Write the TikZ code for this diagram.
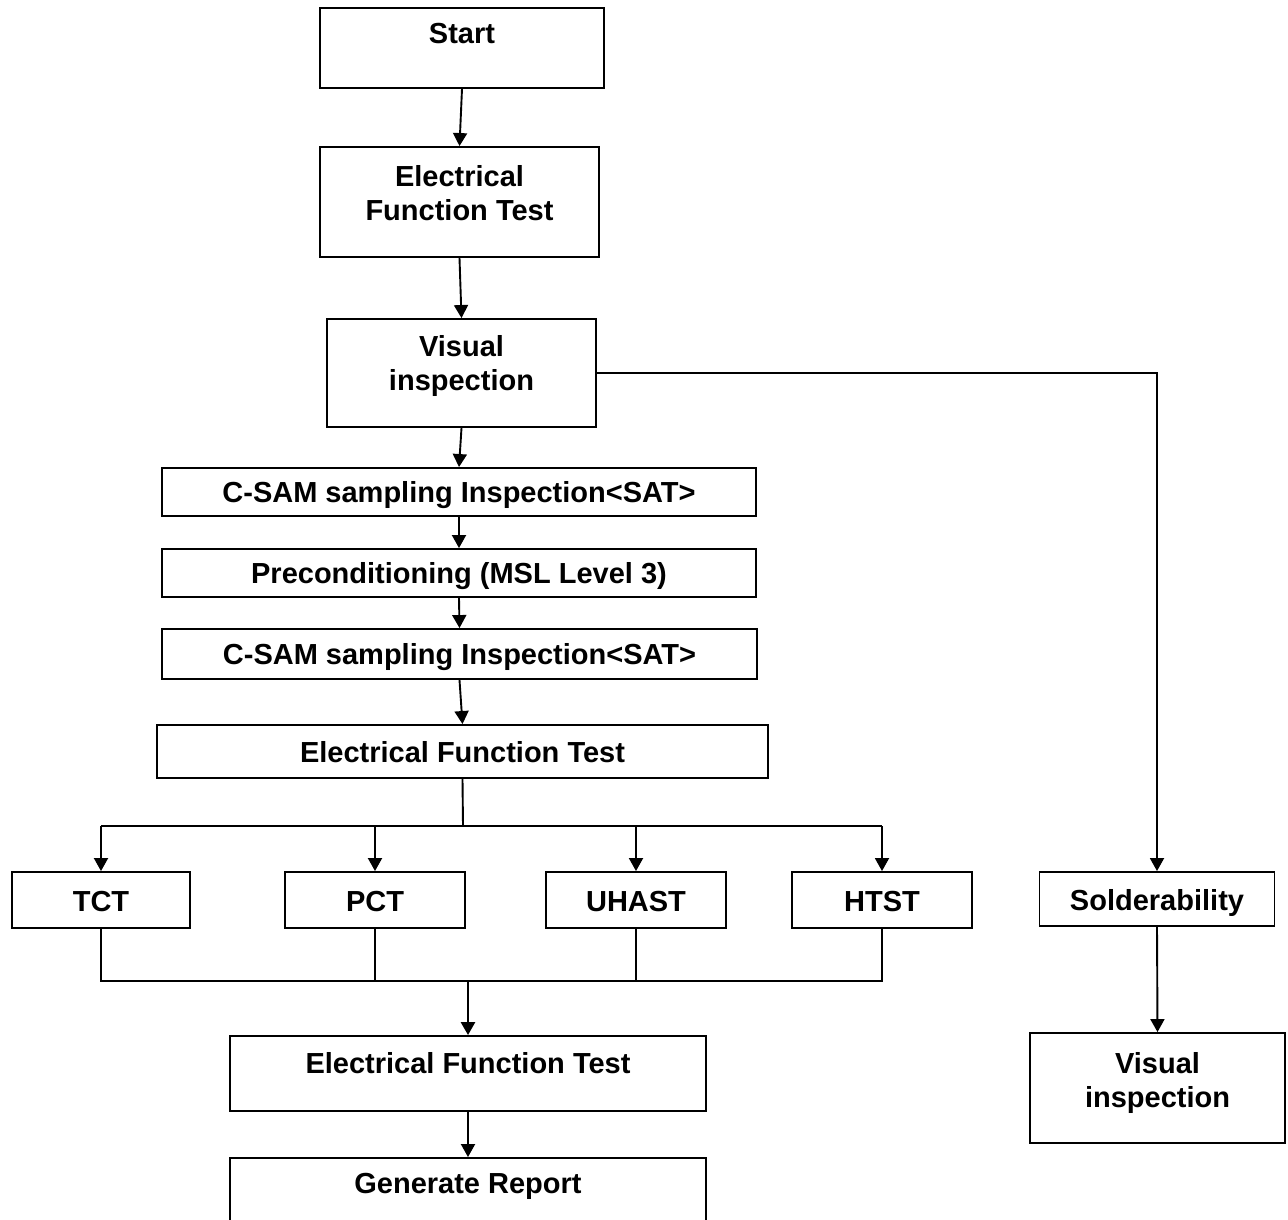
\documentclass[tikz,border=0pt]{standalone}
\usepackage{fontspec}
\setmainfont{Liberation Sans}
\usetikzlibrary{arrows.meta}
\begin{document}
\begin{tikzpicture}[x=1pt,y=-1pt,
  box/.style={draw=black, line width=1.9pt, fill=white, inner sep=0pt},
  txt/.style={anchor=base, align=center, inner sep=0pt,
    font=\bfseries\fontsize{29}{34}\selectfont},
  conn/.style={draw=black, line width=1.9pt},
  arr/.style={conn, -{Triangle[width=14pt,length=13pt]}}]
\useasboundingbox[fill=white] (0,0) rectangle (1288,1220);

% boxes: centre, width, height
\node[box, minimum width=284pt, minimum height=80pt]  (start) at (462,48) {};
\node[box, minimum width=279pt, minimum height=110pt] (eft1)  at (459.5,202) {};
\node[box, minimum width=269pt, minimum height=108pt] (vis1)  at (461.5,373) {};
\node[box, minimum width=594pt, minimum height=48pt]  (csam1) at (459,492) {};
\node[box, minimum width=594pt, minimum height=48pt]  (pre)   at (459,573) {};
\node[box, minimum width=595pt, minimum height=50pt]  (csam2) at (459.5,654) {};
\node[box, minimum width=611pt, minimum height=53pt]  (eft2)  at (462.5,751.5) {};
\node[box, minimum width=178pt, minimum height=56pt]  (tct)   at (101,900) {};
\node[box, minimum width=180pt, minimum height=56pt]  (pct)   at (375,900) {};
\node[box, minimum width=180pt, minimum height=56pt]  (uhast) at (636,900) {};
\node[box, minimum width=180pt, minimum height=56pt]  (htst)  at (882,900) {};
\node[box, minimum width=235pt, minimum height=54pt]  (sold)  at (1157,899) {};
\node[box, minimum width=476pt, minimum height=75pt]  (eft3)  at (468,1073.5) {};
\node[box, minimum width=476pt, minimum height=100pt] (gr)    at (468,1208) {};
\node[box, minimum width=255pt, minimum height=110pt] (vis2)  at (1157.5,1088) {};

% texts (base anchor = baseline of the last line)
\node[txt] (startT) at (462,44) {Start};
\node[txt] (eft1T)  at (459.5,220) {Electrical\\Function Test};
\node[txt] (vis1T)  at (461.5,390) {Visual\\inspection};
\node[txt] (csam1T) at (459,502.5) {C-SAM sampling Inspection<SAT>};
\node[txt] (preT)   at (459,583.5) {Preconditioning (MSL Level 3)};
\node[txt] (csam2T) at (459.5,664.5) {C-SAM sampling Inspection<SAT>};
\node[txt] (eft2T)  at (462.5,762) {Electrical Function Test};
\node[txt] (tctT)   at (101,911) {TCT};
\node[txt] (pctT)   at (375,911) {PCT};
\node[txt] (uhastT) at (636,911) {UHAST};
\node[txt] (htstT)  at (882,911) {HTST};
\node[txt] (soldT)  at (1157,910) {Solderability};
\node[txt] (eft3T)  at (468,1073) {Electrical Function Test};
\node[txt] (grT)    at (468,1193) {Generate Report};
\node[txt] (vis2T)  at (1157.5,1107) {Visual\\inspection};

% main column
\draw[arr] (start.south) -- (eft1.north);
\draw[arr] (eft1.south) -- (vis1.north);
\draw[arr] (vis1.south) -- (csam1.north);
\draw[arr] (csam1.south) -- (pre.north);
\draw[arr] (pre.south) -- (csam2.north);
\draw[arr] (csam2.south) -- (eft2.north);

% branch to solderability
\draw[arr] (vis1.east) -- (sold.north |- vis1.east) -- (sold.north);
\draw[arr] (sold.south) -- (vis2.north);

% fan-out bus
\coordinate (busT) at (463,826);
\coordinate (busTL) at (101,826);
\coordinate (busTR) at (882,826);
\draw[conn] (eft2.south) -- (busT);
\draw[conn] (busTL) -- (busTR);
\draw[arr] (busTL) -- (tct.north);
\draw[arr] (pct.north |- busT) -- (pct.north);
\draw[arr] (uhast.north |- busT) -- (uhast.north);
\draw[arr] (busTR) -- (htst.north);

% fan-in bus
\coordinate (busB) at (468,981);
\draw[conn] (tct.south) -- (tct.south |- busB) -- (htst.south |- busB) -- (htst.south);
\draw[conn] (pct.south) -- (pct.south |- busB);
\draw[conn] (uhast.south) -- (uhast.south |- busB);
\draw[arr, line width=2.6pt] (busB) -- (eft3.north);
\draw[arr] (eft3.south) -- (gr.north);
\end{tikzpicture}
\end{document}
